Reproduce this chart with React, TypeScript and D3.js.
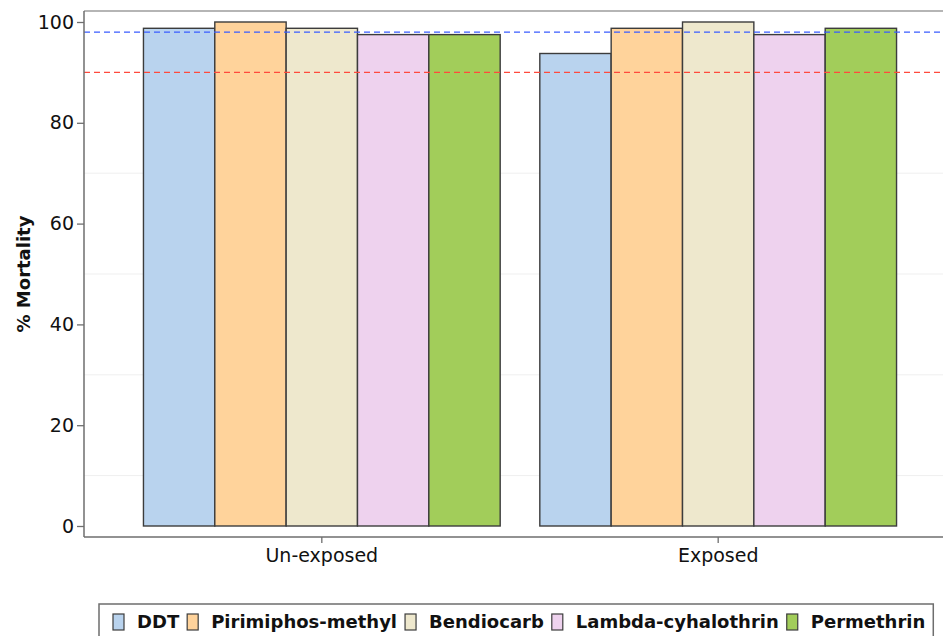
import React, { useEffect, useRef } from 'react';
import * as d3 from 'd3';

const groups = ['Un-exposed', 'Exposed'];
const insecticides = ['DDT', 'Pirimiphos-methyl', 'Bendiocarb', 'Lambda-cyhalothrin', 'Permethrin'];
const unexposedValues = [98.75, 100, 98.75, 97.5, 97.5];
const exposedValues = [93.75, 98.75, 100, 97.5, 98.75];
const barColors = ['#b9d3ee', '#ffd39b', '#eee8cd', '#eed2ee', '#a2cd5a'];
const yTicks = [0, 20, 40, 60, 80, 100];
const gridValues = [10, 30, 50, 70];
const refLines = [
  { value: 98, color: '#3a5cff' },
  { value: 90, color: '#ff4a3d' },
];

const App: React.FC = () => {
  const svgRef = useRef<SVGSVGElement>(null);

  useEffect(() => {
    if (!svgRef.current) return;
    document.body.style.margin = '0';

    const width = 943;
    const height = 636;
    const left = 84;
    const right = 956;
    const top = 11;
    const axisY = 537;

    const svg = d3.select(svgRef.current);
    svg.selectAll('*').remove();
    svg.attr('width', width).attr('height', height).style('display', 'block');

    const y = d3.scaleLinear().domain([0, 100]).range([526, 22]);
    const x0 = d3.scaleBand().domain(groups).range([left, right]).paddingInner(0.1).paddingOuter(0.15);
    const x1 = d3.scaleBand().domain(insecticides).range([0, x0.bandwidth()]);
    const color = d3.scaleOrdinal<string, string>().domain(insecticides).range(barColors);

    const rows = groups.map((g, i) => ({
      group: g,
      values: (i === 0 ? unexposedValues : exposedValues).map((v, j) => ({ key: insecticides[j], value: v })),
    }));

    // faint gridlines
    svg.append('g')
      .selectAll('line')
      .data(gridValues)
      .join('line')
      .attr('x1', left).attr('x2', width)
      .attr('y1', d => y(d)).attr('y2', d => y(d))
      .attr('stroke', '#efefef').attr('stroke-width', 1);

    // top border
    svg.append('line')
      .attr('x1', left).attr('x2', width).attr('y1', top).attr('y2', top)
      .attr('stroke', '#b5b5b5').attr('stroke-width', 2);

    // bars
    svg.append('g')
      .selectAll('g')
      .data(rows)
      .join('g')
      .attr('transform', d => `translate(${x0(d.group)},0)`)
      .selectAll('rect')
      .data(d => d.values)
      .join('rect')
      .attr('x', d => x1(d.key)!)
      .attr('width', x1.bandwidth())
      .attr('y', d => y(d.value))
      .attr('height', d => y(0) - y(d.value))
      .attr('fill', d => color(d.key))
      .attr('stroke', '#3c3c3c')
      .attr('stroke-width', 1.4);

    // reference lines
    svg.append('g')
      .selectAll('line')
      .data(refLines)
      .join('line')
      .attr('x1', left).attr('x2', width)
      .attr('y1', d => y(d.value)).attr('y2', d => y(d.value))
      .attr('stroke', d => d.color)
      .attr('stroke-width', 1.3)
      .attr('stroke-dasharray', '6,4');

    // y axis
    const yAxis = svg.append('g')
      .attr('transform', `translate(${left},0)`)
      .call(d3.axisLeft(y).tickValues(yTicks).tickSize(7).tickPadding(3));
    yAxis.select('.domain').remove();
    yAxis.selectAll('line').attr('stroke', '#6e6e6e').attr('stroke-width', 1.3);
    yAxis.selectAll('text')
      .attr('font-family', '"DejaVu Sans", sans-serif')
      .attr('font-size', 19)
      .attr('fill', '#111');
    svg.append('line')
      .attr('x1', left).attr('x2', left).attr('y1', top).attr('y2', axisY)
      .attr('stroke', '#6e6e6e').attr('stroke-width', 1.5);

    // x axis
    const xAxis = svg.append('g')
      .attr('transform', `translate(0,${axisY})`)
      .call(d3.axisBottom(x0).tickSize(6).tickPadding(6));
    xAxis.select('.domain').remove();
    xAxis.selectAll('line').attr('stroke', '#6e6e6e').attr('stroke-width', 1.3);
    xAxis.selectAll('text')
      .attr('font-family', '"DejaVu Sans", sans-serif')
      .attr('font-size', 19)
      .attr('fill', '#111');
    svg.append('line')
      .attr('x1', left).attr('x2', width).attr('y1', axisY).attr('y2', axisY)
      .attr('stroke', '#6e6e6e').attr('stroke-width', 1.5);

    // y title
    svg.append('text')
      .attr('transform', `translate(30,${(top + axisY) / 2}) rotate(-90)`)
      .attr('text-anchor', 'middle')
      .attr('font-family', '"DejaVu Sans", sans-serif')
      .attr('font-weight', 'bold')
      .attr('font-size', 18)
      .attr('fill', '#111')
      .text('% Mortality');

    // legend
    const legend = svg.append('g');
    const box = legend.append('rect')
      .attr('y', 604)
      .attr('height', 40)
      .attr('fill', 'white')
      .attr('stroke', '#6e6e6e')
      .attr('stroke-width', 1.5);
    let cx = 113;
    insecticides.forEach((name, i) => {
      legend.append('rect')
        .attr('x', cx).attr('y', 614).attr('width', 11).attr('height', 16)
        .attr('fill', barColors[i]).attr('stroke', '#3c3c3c').attr('stroke-width', 1.2);
      const t = legend.append('text')
        .attr('x', cx + 24).attr('y', 628)
        .attr('font-family', '"DejaVu Sans", sans-serif')
        .attr('font-weight', 'bold')
        .attr('font-size', 18)
        .attr('fill', '#111')
        .text(name);
      const w = (t.node() as SVGTextElement).getComputedTextLength();
      cx = cx + 24 + w + 8;
    });
    box.attr('x', 99).attr('width', cx - 99);
  }, []);

  return <svg ref={svgRef}></svg>;
};

export default App;
